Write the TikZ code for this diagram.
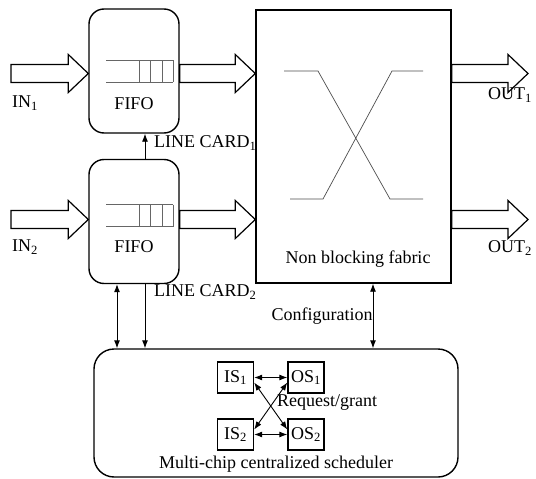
\documentclass[tikz,border=0pt]{standalone}
\usepackage{fontspec}
\setmainfont{Liberation Serif}
\usetikzlibrary{arrows.meta,calc}

\begin{document}
\begin{tikzpicture}[x=1pt,y=-1pt,
    font=\fontsize{18}{21}\selectfont,
    card/.style={draw,line width=1.4pt,rounded corners=15pt,
        minimum width=90pt,minimum height=124pt},
    chip/.style={draw,line width=1.4pt,inner sep=0pt,
        minimum width=36pt,minimum height=31pt},
    fat/.style={draw,line width=1.2pt,fill=white,to path={
        let \p1=(\tikztostart), \p2=(\tikztotarget) in
        (\x1,\y1+9) -- (\x2-20,\y1+9) -- (\x2-20,\y1+19) -- (\x2,\y1)
        -- (\x2-20,\y1-19) -- (\x2-20,\y1-9) -- (\x1,\y1-9) -- cycle}},
    link/.style={line width=0.9pt,-{Latex[length=8pt,width=6pt]}},
    dlink/.style={line width=0.9pt,
        {Latex[length=8pt,width=6pt]}-{Latex[length=8pt,width=6pt]}},
    queue/.style={black!60,line width=0.8pt}]

\useasboundingbox (0,0) rectangle (536,479);

% Line cards & fabric
\node[card] (card1) at (134,71) {};
\node[card] (card2) at (134,221.5) {};
\node[  draw,
        line width=1.4pt,
        minimum width=195pt,
        minimum height=273pt
    ] (fabric) at (353.5,146.5) {};
\node[  draw,
        line width=1.4pt,
        rounded corners=20pt,
        minimum width=364pt,
        minimum height=128pt
    ] (sched) at (276,413) {};

% Queues
\foreach \q in {71,215.5} {
    \draw[queue] (106,\q-11) -- (173,\q-11) (106,\q+11) -- (173,\q+11);
    \foreach \k in {139,150,162,173}
        \draw[queue] (\k,\q-11) -- (\k,\q+11);
}
\node (fifo1) at (134,104) {FIFO};
\node (fifo2) at (134,247) {FIFO};

% Crossbar
\draw[black!70,line width=0.7pt] (284,71) -- (318,71) -- (390,199) -- (423,199)
    (290,199) -- (323,199) -- (392,71) -- (423,71);
\node (fablbl) at (358,259) {Non blocking fabric};

% Ports
\coordinate (in1) at (11,73.5);
\coordinate (in2) at (11,219.5);
\coordinate (out1) at (528,73.5);
\coordinate (out2) at (528,219.5);
\draw[fat] (in1) to (in1 -| card1.west);
\draw[fat] (in2) to (in2 -| card2.west);
\draw[fat] (in1 -| card1.east) to (in1 -| fabric.west);
\draw[fat] (in2 -| card2.east) to (in2 -| fabric.west);
\draw[fat] (in1 -| fabric.east) to (out1);
\draw[fat] (in2 -| fabric.east) to (out2);
\node (in1lbl) at (25,103) {IN\textsubscript{1}};
\node (in2lbl) at (25,247) {IN\textsubscript{2}};
\node (out1lbl) at (510,95) {OUT\textsubscript{1}};
\node (out2lbl) at (510,248) {OUT\textsubscript{2}};
\node[anchor=west,inner sep=0pt] (lc1) at (154,143) {LINE CARD\textsubscript{1}};
\node[anchor=west,inner sep=0pt] (lc2) at (154,292) {LINE CARD\textsubscript{2}};

% Scheduler chips
\node[chip] (is1) at (235.5,377.5) {IS\textsubscript{1}};
\node[chip] (os1) at (306,377.5) {OS\textsubscript{1}};
\node[chip] (is2) at (235.5,434.5) {IS\textsubscript{2}};
\node[chip] (os2) at (306,434.5) {OS\textsubscript{2}};
\node (reqlbl) at (327,403) {Request/grant};
\node (schedlbl) at (276,464) {Multi-chip centralized scheduler};

% Arcs
\draw[link] ([xshift=11pt]card2.north) -- ([xshift=11pt]card1.south);
\draw[dlink] ([xshift=-17pt]card2.south) -- ([xshift=-17pt]card2.south |- sched.north);
\draw[link] ([xshift=11pt]card2.south) -- ([xshift=11pt]card2.south |- sched.north);
\draw[dlink] ([xshift=19.5pt]fabric.south)
    -- node[left,inner sep=0pt] {Configuration}
    ([xshift=19.5pt]fabric.south |- sched.north);
\draw[dlink] (is1.east) -- (os1.west);
\draw[dlink] (is2.east) -- (os2.west);
\draw[dlink] ([yshift=-5pt]is1.east) -- ([yshift=5pt]os2.west);
\draw[dlink] ([yshift=-5pt]os1.west) -- ([yshift=5pt]is2.east);

\end{tikzpicture}
\end{document}
